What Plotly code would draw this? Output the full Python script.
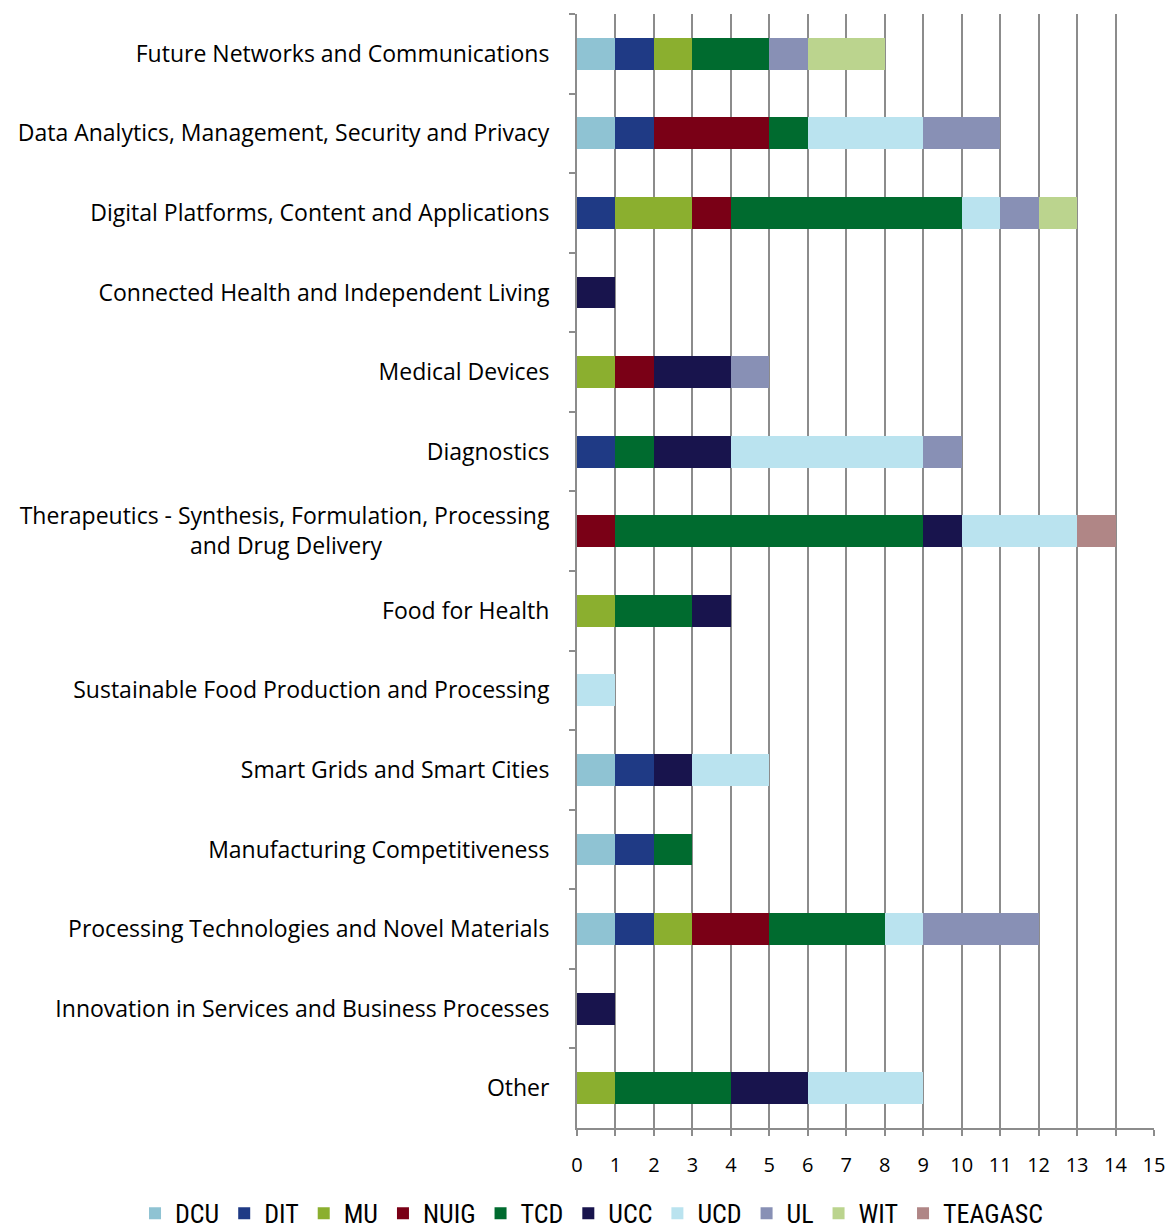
import plotly.graph_objects as go

# --- data ----------------------------------------------------------------

# non-breaking spaces pad the 2nd line so it sits roughly centred under the 1st
PAD = "&nbsp;" * 28
categories = [
    "Future Networks and Communications",
    "Data Analytics, Management, Security and Privacy",
    "Digital Platforms, Content and Applications",
    "Connected Health and Independent Living",
    "Medical Devices",
    "Diagnostics",
    "Therapeutics - Synthesis, Formulation, Processing<br>and Drug Delivery" + PAD,
    "Food for Health",
    "Sustainable Food Production and Processing",
    "Smart Grids and Smart Cities",
    "Manufacturing Competitiveness",
    "Processing Technologies and Novel Materials",
    "Innovation in Services and Business Processes",
    "Other",
]

dcu = [1, 1, 0, 0, 0, 0, 0, 0, 0, 1, 1, 1, 0, 0]
dit = [1, 1, 1, 0, 0, 1, 0, 0, 0, 1, 1, 1, 0, 0]
mu = [1, 0, 2, 0, 1, 0, 0, 1, 0, 0, 0, 1, 0, 1]
nuig = [0, 3, 1, 0, 1, 0, 1, 0, 0, 0, 0, 2, 0, 0]
tcd = [2, 1, 6, 0, 0, 1, 8, 2, 0, 0, 1, 3, 0, 3]
ucc = [0, 0, 0, 1, 2, 2, 1, 1, 0, 1, 0, 0, 1, 2]
ucd = [0, 3, 1, 0, 0, 5, 3, 0, 1, 2, 0, 1, 0, 3]
ul = [1, 2, 1, 0, 1, 1, 0, 0, 0, 0, 0, 3, 0, 0]
wit = [2, 0, 1, 0, 0, 0, 0, 0, 0, 0, 0, 0, 0, 0]
teagasc = [0, 0, 0, 0, 0, 0, 1, 0, 0, 0, 0, 0, 0, 0]

series = [
    ("DCU", dcu, "#8fc3d3"),
    ("DIT", dit, "#1f3a85"),
    ("MU", mu, "#8baf2f"),
    ("NUIG", nuig, "#7a0016"),
    ("TCD", tcd, "#006b2f"),
    ("UCC", ucc, "#18144d"),
    ("UCD", ucd, "#bae3ef"),
    ("UL", ul, "#8890b5"),
    ("WIT", wit, "#bbd48e"),
    ("TEAGASC", teagasc, "#b08686"),
]

# --- figure --------------------------------------------------------------

fig = go.Figure()
for name, values, colour in series:
    fig.add_trace(
        go.Bar(
            y=categories,
            x=values,
            name=name,
            orientation="h",
            marker={"color": colour, "line": {"width": 0}},
        )
    )

fig.update_layout(
    barmode="stack",
    bargap=0.6,
    width=1170,
    height=1229,
    plot_bgcolor="white",
    paper_bgcolor="white",
    font={"family": "Open Sans, sans-serif", "size": 23, "color": "black"},
    margin={"l": 577, "r": 16, "t": 14, "b": 101, "autoexpand": False},
    legend={
        "orientation": "h",
        "x": -0.766,
        "xanchor": "left",
        "y": -0.0555,
        "yanchor": "top",
        "font": {"family": "Liberation Sans Narrow, Roboto Condensed, Arial Narrow, sans-serif", "size": 26},
        "itemwidth": 30,
        "traceorder": "normal",
    },
)
fig.update_xaxes(
    range=[0, 15],
    dtick=1,
    showgrid=True,
    gridcolor="#8c8c8c",
    gridwidth=2,
    zeroline=False,
    showline=True,
    linecolor="#8c8c8c",
    linewidth=2,
    ticks="outside",
    ticklen=6,
    tickcolor="#8c8c8c",
    tickwidth=2,
    tickfont={"size": 20},
    ticklabelstandoff=12,
    ticklabeloverflow="allow",
)
fig.update_yaxes(
    autorange="reversed",
    showgrid=False,
    showline=True,
    linecolor="#8c8c8c",
    linewidth=2,
    ticks="outside",
    tickson="boundaries",
    ticklen=6,
    tickcolor="#8c8c8c",
    tickwidth=2,
    ticklabelstandoff=21,
)

# drop the browser's default 8px body margin so the figure fills the window
fig.write_html(
    "out.html",
    config={"displayModeBar": False},
    post_script="document.body.style.margin = '0';",
)
